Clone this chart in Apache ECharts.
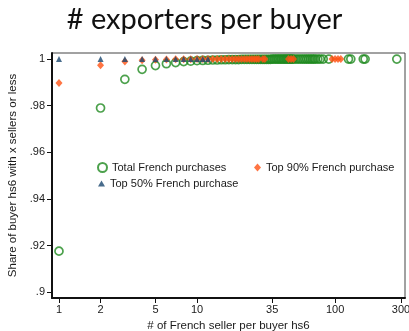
<!DOCTYPE html>
<html>
<head>
<meta charset="utf-8">
<script src="https://cdn.jsdelivr.net/npm/echarts@6/dist/echarts.min.js"></script>
<style>
  html, body { margin: 0; padding: 0; background: #fff; }
  #chart { width: 409px; height: 331px; }
</style>
</head>
<body>
<div id="chart"></div>
<script>
// Number of French sellers per buyer-hs6 (x) and cumulative share of buyers (y)
const totalSellers = [1,2,3,4,5,6,7,8,9,10,11,12,13,14,15,16,17,18,19,20,
  21,22,23,24,25,26,27,28,29,30,31,32,33,34,35,36,37,38,39,40,
  41,42,43,44,45,46,47,48,49,50,52,54,56,58,60,62,64,66,68,70,
  72,75,78,82,90,125,130,160,165,280];
const totalShare = [0.9176,0.9790,0.9913,0.9956,0.9972,0.9980,0.9985,0.9989,0.9991,0.9993,
  0.9994,0.9995,0.9996,0.9996,0.9997,0.9997,0.9998,0.9998,0.9998,0.9998,
  0.9999,0.9999,0.9999,0.9999,0.9999,0.9999,0.9999,0.9999,0.9999,0.9999,
  0.9999,0.9999,0.9999,0.9999,1,1,1,1,1,1,
  1,1,1,1,1,1,1,1,1,1,1,1,1,1,1,1,1,1,1,1,
  1,1,1,1,1,1,1,1,1,1];

const top90Sellers = [1,2,3,4,5,6,7,8,9,10,11,12,13,14,15,16,17,18,19,20,
  21,22,23,24,25,26,27,28,30,31,46,48,50,95,100,105,110];
const top90Share = [0.9897,0.9973,0.9990,0.9995,0.9997,0.9998,0.9999,0.9999,0.9999,1,
  1,1,1,1,1,1,1,1,1,1,1,1,1,1,1,1,1,1,1,1,1,1,1,1,1,1,1];

const top50Sellers = [1,2,3,4,5,6,7,8,9,10,11,12];
const top50Share = [1,1,1,1,1,1,1,1,1,1,1,1];

const xTicks = [1,2,5,10,35,100,300];
const yTicks = [0.9,0.92,0.94,0.96,0.98,1];

const seriesNames = ['Total French purchases','Top 90% French purchase','Top 50% French purchase'];
const colors = ['#1f8a1f','#ff5214','#1a476f'];

const pairs = (xs, ys) => xs.map((x, i) => [x, ys[i]]);
const fontFamily = '"Liberation Sans", Arial, sans-serif';

const chart = echarts.init(document.getElementById('chart'), null, { renderer: 'canvas' });

// one legend block per entry so each key sits where it belongs
const legendItem = (name, left, top, w, h) => ({
  data: [name], left, top, orient: 'horizontal',
  itemWidth: w, itemHeight: h, itemGap: 0,
  selectedMode: false,
  textStyle: { fontSize: 11, color: '#1a1a1a', fontFamily }
});

chart.setOption({
  animation: false,
  backgroundColor: '#fff',
  title: {
    text: '# exporters per buyer',
    left: 'center', top: 0,
    textStyle: { fontFamily: 'Lato, "Open Sans", sans-serif', fontWeight: 'normal', fontSize: 29, color: '#111' }
  },
  legend: [
    legendItem(seriesNames[0], 92, 157, 9, 9),
    legendItem(seriesNames[1], 249, 157, 7, 8),
    legendItem(seriesNames[2], 93, 173, 7, 6)
  ],
  grid: {
    left: 52, right: 4, top: 53, bottom: 33,
    outerBoundsMode: 'none', containLabel: false,
    show: true, borderColor: '#444', borderWidth: 1, backgroundColor: '#fff'
  },
  xAxis: {
    type: 'log', logBase: 10, min: 0.89, max: 321,
    name: '# of French seller per buyer hs6',
    nameLocation: 'middle', nameGap: 19,
    nameTextStyle: { fontSize: 11.5, color: '#1a1a1a', fontFamily },
    axisLine: { show: true, lineStyle: { color: '#111', width: 2 } },
    axisTick: { show: true, length: 5, lineStyle: { color: '#111' }, customValues: xTicks },
    axisLabel: { fontSize: 11, color: '#1a1a1a', fontFamily, margin: 6, customValues: xTicks,
      formatter: v => String(Math.round(v)) },
    splitLine: { show: false },
    minorTick: { show: false }
  },
  yAxis: {
    type: 'value', min: 0.8975, max: 1.0026,
    name: 'Share of buyer hs6 with x sellers or less',
    nameLocation: 'middle', nameGap: 33,
    nameTextStyle: { fontSize: 11.5, color: '#1a1a1a', fontFamily },
    axisLine: { show: true, lineStyle: { color: '#111', width: 2 } },
    axisTick: { show: true, length: 5, lineStyle: { color: '#111' }, customValues: yTicks },
    axisLabel: { fontSize: 11, color: '#1a1a1a', fontFamily, margin: 7, customValues: yTicks,
      formatter: v => (Math.abs(v - 1) < 1e-9 ? '1' : String(+v.toFixed(2)).replace(/^0/, '')) },
    splitLine: { show: false }
  },
  series: [
    {
      name: seriesNames[0], type: 'scatter', data: pairs(totalSellers, totalShare),
      symbol: 'circle', symbolSize: 8,
      itemStyle: { color: 'rgba(255,255,255,0)', borderColor: colors[0], borderWidth: 1.7 },
      z: 2
    },
    {
      name: seriesNames[1], type: 'scatter', data: pairs(top90Sellers, top90Share),
      symbol: 'diamond', symbolSize: [7, 8],
      itemStyle: { color: colors[1] },
      z: 3
    },
    {
      name: seriesNames[2], type: 'scatter', data: pairs(top50Sellers, top50Share),
      symbol: 'triangle', symbolSize: 6,
      itemStyle: { color: colors[2] },
      z: 4
    }
  ]
});
</script>
</body>
</html>
